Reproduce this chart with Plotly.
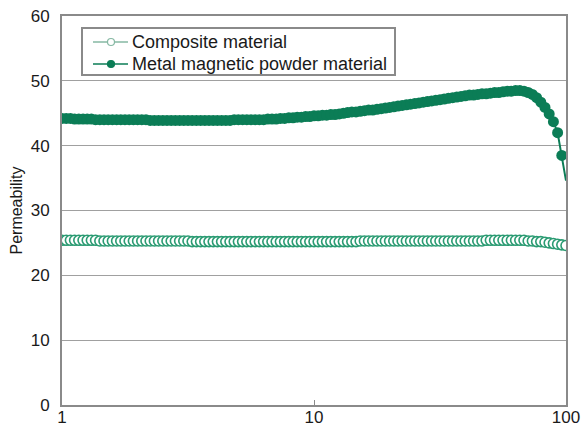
import plotly.graph_objects as go

# Frequency (log-spaced sweep)
freq = [1.000, 1.039, 1.080, 1.122, 1.166, 1.212, 1.259, 1.308, 1.359, 1.413,
        1.468, 1.525, 1.585, 1.647, 1.711, 1.778, 1.848, 1.920, 1.995, 2.073,
        2.154, 2.239, 2.326, 2.417, 2.512, 2.610, 2.712, 2.818, 2.929, 3.043,
        3.162, 3.286, 3.415, 3.548, 3.687, 3.831, 3.981, 4.137, 4.299, 4.467,
        4.642, 4.823, 5.012, 5.208, 5.412, 5.623, 5.843, 6.072, 6.310, 6.557,
        6.813, 7.079, 7.356, 7.644, 7.943, 8.254, 8.577, 8.913, 9.261, 9.624,
        10.00, 10.39, 10.80, 11.22, 11.66, 12.12, 12.59, 13.08, 13.59, 14.13,
        14.68, 15.25, 15.85, 16.47, 17.11, 17.78, 18.48, 19.20, 19.95, 20.73,
        21.54, 22.39, 23.26, 24.17, 25.12, 26.10, 27.12, 28.18, 29.29, 30.43,
        31.62, 32.86, 34.15, 35.48, 36.87, 38.31, 39.81, 41.37, 42.99, 44.67,
        46.42, 48.23, 50.12, 52.08, 54.12, 56.23, 58.43, 60.72, 63.10, 65.57,
        68.13, 70.79, 73.56, 76.44, 79.43, 82.54, 85.77, 89.13, 92.61, 96.24,
        100.0]

metal = [44.2, 44.2, 44.2, 44.1, 44.1, 44.1, 44.1, 44.1, 44.0, 44.0,
         44.0, 44.0, 44.0, 44.0, 44.0, 44.0, 44.0, 44.0, 44.0, 44.0,
         44.0, 43.9, 43.9, 43.9, 43.9, 43.9, 43.9, 43.9, 43.9, 43.9,
         43.9, 43.9, 43.9, 43.9, 43.9, 43.9, 43.9, 43.9, 43.9, 43.9,
         43.9, 44.0, 44.0, 44.0, 44.0, 44.0, 44.0, 44.0, 44.0, 44.1,
         44.1, 44.1, 44.2, 44.2, 44.3, 44.3, 44.4, 44.4, 44.5, 44.5,
         44.6, 44.6, 44.7, 44.7, 44.8, 44.8, 44.9, 45.0, 45.1, 45.2,
         45.2, 45.3, 45.4, 45.5, 45.5, 45.6, 45.7, 45.8, 45.9, 46.0,
         46.1, 46.2, 46.3, 46.4, 46.5, 46.6, 46.7, 46.8, 46.9, 47.0,
         47.1, 47.2, 47.3, 47.4, 47.5, 47.6, 47.7, 47.8, 47.8, 47.9,
         48.0, 48.0, 48.1, 48.2, 48.2, 48.3, 48.4, 48.4, 48.5, 48.5,
         48.4, 48.2, 47.9, 47.4, 46.7, 45.9, 44.9, 43.7, 42.0, 38.5,
         34.6]

composite = [25.4, 25.4, 25.4, 25.4, 25.4, 25.4, 25.4, 25.4, 25.4, 25.3,
             25.3, 25.3, 25.3, 25.3, 25.3, 25.3, 25.3, 25.3, 25.3, 25.3,
             25.3, 25.3, 25.3, 25.3, 25.3, 25.3, 25.3, 25.3, 25.3, 25.3,
             25.3, 25.2, 25.2, 25.2, 25.2, 25.2, 25.2, 25.2, 25.2, 25.2,
             25.2, 25.2, 25.2, 25.2, 25.2, 25.2, 25.2, 25.2, 25.2, 25.2,
             25.2, 25.2, 25.2, 25.2, 25.2, 25.2, 25.2, 25.2, 25.2, 25.2,
             25.2, 25.2, 25.2, 25.2, 25.2, 25.2, 25.2, 25.2, 25.2, 25.2,
             25.2, 25.3, 25.3, 25.3, 25.3, 25.3, 25.3, 25.3, 25.3, 25.3,
             25.3, 25.3, 25.3, 25.3, 25.3, 25.3, 25.3, 25.3, 25.3, 25.3,
             25.3, 25.3, 25.3, 25.3, 25.3, 25.3, 25.3, 25.3, 25.3, 25.3,
             25.3, 25.4, 25.4, 25.4, 25.4, 25.4, 25.4, 25.4, 25.4, 25.4,
             25.4, 25.3, 25.3, 25.2, 25.2, 25.1, 25.0, 24.9, 24.8, 24.7,
             24.6]

series_names = ["Composite material", "Metal magnetic powder material"]
y_ticks = [0, 10, 20, 30, 40, 50, 60]
x_ticks = [1, 10, 100]
x_tick_text = ["1", "10", "100"]

DARK = "#0b7d56"
MID = "#2a9b72"
LIGHT = "#86b8a3"
GRID = "#a0a0a0"
AXIS = "#8a8a8a"
FONT = "Liberation Sans, Arial, sans-serif"
TEXT = "#1a1a1a"

W, H = 586, 427
ML, MR, MT, MB = 62, 20, 16, 22
PW, PH = W - ML - MR, H - MT - MB


def px(x):
    return (x - ML) / PW


def py(y):
    return (H - MB - y) / PH


fig = go.Figure()

# composite (open circles)
fig.add_trace(go.Scatter(
    x=freq, y=composite, mode="lines+markers", name=series_names[0],
    showlegend=False,
    line=dict(color=MID, width=1.5),
    marker=dict(symbol="circle", size=10, color="white", opacity=1,
                line=dict(color=MID, width=1.6)),
))

# metal (filled circles), last point without marker
sizes = [11] * (len(freq) - 1) + [0]
fig.add_trace(go.Scatter(
    x=freq, y=metal, mode="lines+markers", name=series_names[1],
    showlegend=False,
    line=dict(color=DARK, width=2),
    marker=dict(symbol="circle", size=sizes, color=DARK, opacity=1,
                line=dict(color=DARK, width=0)),
))

# ---- legend (boxed key in paper coordinates) ----
shapes = [dict(type="rect", xref="paper", yref="paper",
               x0=px(82), x1=px(395), y0=py(75), y1=py(28),
               line=dict(color=AXIS, width=2), fillcolor="white", layer="above")]
rows = [42, 64]
legend_styles = [(LIGHT, "white"), (DARK, DARK)]
annotations = []
for name, ry, (lc, fc) in zip(series_names, rows, legend_styles):
    shapes.append(dict(type="line", xref="paper", yref="paper",
                       x0=px(93), x1=px(128), y0=py(ry), y1=py(ry),
                       line=dict(color=lc, width=1.5), layer="above"))
    shapes.append(dict(type="circle", xref="paper", yref="paper",
                       xsizemode="pixel", ysizemode="pixel",
                       xanchor=px(111), yanchor=py(ry),
                       x0=-3.5, x1=3.5, y0=-3.5, y1=3.5,
                       line=dict(color=lc, width=1.2), fillcolor=fc, layer="above"))
    annotations.append(dict(xref="paper", yref="paper", x=px(130), y=py(ry),
                            xanchor="left", yanchor="middle", showarrow=False,
                            text=name, font=dict(family=FONT, size=18, color=TEXT)))

fig.update_layout(
    width=W, height=H,
    margin=dict(l=ML, r=MR, t=MT, b=MB, autoexpand=False),
    paper_bgcolor="white", plot_bgcolor="white",
    font=dict(family=FONT, size=17, color=TEXT),
    showlegend=False,
    shapes=shapes, annotations=annotations,
    xaxis=dict(
        type="log", range=[0, 2],
        tickmode="array", tickvals=x_ticks, ticktext=x_tick_text,
        showgrid=False, zeroline=False,
        showline=True, linecolor=AXIS, linewidth=2, mirror=True,
        ticks="inside", ticklen=5, tickcolor=AXIS, tickwidth=1,
        ticklabelstandoff=-4,
        tickfont=dict(size=17), automargin=False,
    ),
    yaxis=dict(
        range=[0, 60], tickmode="array", tickvals=y_ticks,
        showgrid=True, gridcolor=GRID, gridwidth=1.2,
        zeroline=False,
        showline=True, linecolor=AXIS, linewidth=2, mirror=True,
        ticks="", ticklabelstandoff=7,
        tickfont=dict(size=17), automargin=False,
        title=dict(text="Permeability", font=dict(size=16), standoff=4),
    ),
)

fig.write_html(
    "out.html",
    config={"displayModeBar": False},
    post_script="document.body.style.margin='0';document.body.style.overflow='hidden';",
)
